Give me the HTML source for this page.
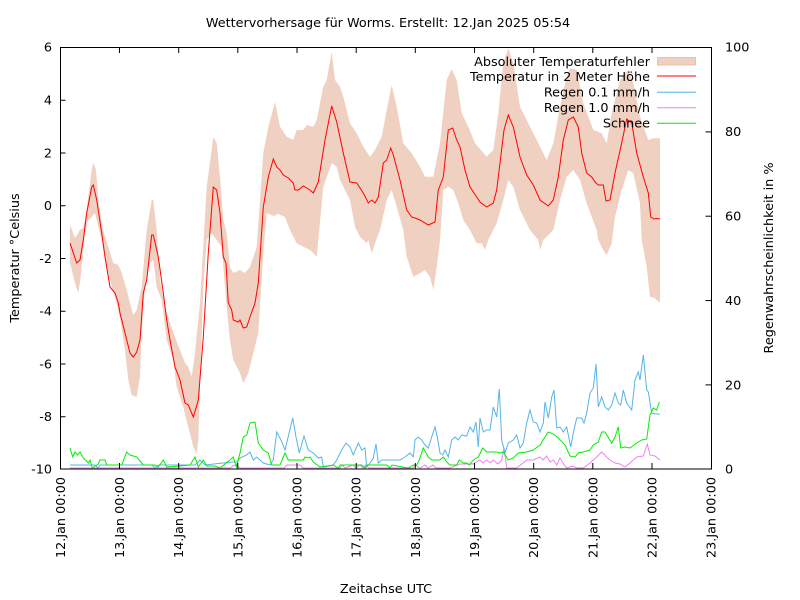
<!DOCTYPE html>
<html><head><meta charset="utf-8"><style>
html,body{margin:0;padding:0;background:#fff;}
svg{display:block;}
text{font-family:"DejaVu Sans","Liberation Sans",sans-serif;font-size:12.8px;fill:#000;}
</style></head><body>
<svg width="800" height="600" viewBox="0 0 800 600" xmlns="http://www.w3.org/2000/svg">
<rect width="800" height="600" fill="#fff"/>
<!-- band -->
<polygon fill="#f0d0c0" stroke="none" points="70,225 75,238 80,230 83.3,228 86.7,210 91.7,170 93.3,162.7 96,170 98.3,200 101.7,223 105,237 108.3,247 113.3,263 118.3,265 121.7,273 126.7,290 130,303 133.3,315 136.7,310 141.7,287 146.7,230 151.7,200 153.3,200 156.7,230 160,280 165,307 170,323 175,337 180,350 185,363 188.3,367 191.7,377 195,353 200,303 206.7,187 213.3,137 216.7,143 220,177 223.3,220 226.7,233 230,267 233.3,273 240,270 245,273 250,267 256.7,247 263.3,153 268.3,127 275,102 280,126.7 286.7,136.7 293.3,140 296.7,130 303.3,130 306.7,125 313.3,126.7 316.7,120 323.3,86.7 326.7,80 331.7,51.7 335,80 340,86.7 343.3,96.7 350,123.3 356.7,133.3 363.3,146.7 370,156.7 375,150 381.7,136.7 386.7,110 391.7,85 396.7,106.7 403.3,143.3 411.7,153.3 420,166.7 425,176.7 433.3,176.7 440,143.3 446.7,80 451.7,69.3 456.7,80 461.7,113.3 468.3,126.7 475,143.3 486.7,156.7 493.3,150 498.3,113.3 503.3,63.3 508.3,48.3 513.3,63.3 520,106.7 530,126.7 536.7,140 546.7,160 553.3,143.3 560,106.7 566.7,76.7 570,68.3 576.7,70 583.3,103.3 593.3,130 601.7,133.3 606.7,143.3 611.7,113.3 620,80 628.3,70 633.3,83.3 640,116.7 648.3,140 653.3,138.3 660,138.3
660,301.7 658.3,301.7 655,298.3 650,296.7 646.7,266.7 641.7,240 640,203.3 633.3,173.3 628.3,170 621.7,190 615,216.7 611.7,243.3 606.7,255 603.3,250 598.3,240 596.7,230 586.7,203.3 580,180 573.3,170 566.7,176.7 560,200 553.3,230 543.3,240 540,250 538.3,240 530,230 520,210 513.3,186.7 508.3,180 503.3,200 496.7,223.3 488.3,240 485,250 481.7,243.3 476.7,243.3 470,230 463.3,220 458.3,203.3 453.3,190 448.3,186.7 443.3,190 440,240 436.7,266.7 433.3,290 430,276.7 425,270 420,273.3 413.3,276.7 406.7,256.7 403.3,230 396.7,206.7 391.7,190 386.7,200 380,230 375,243.3 371.7,253.3 368.3,240 366.7,243.3 360,236.7 355,226.7 350,200 340,180 336.7,166.7 331.7,163.3 323.3,186.7 316.7,256.7 313.3,253.3 310,250 303.3,246.7 296.7,243.3 290,230 285,217 278.3,214 273.3,216 266.7,213 263.3,253 258.3,333 253.3,353 248.3,373 243.3,383 240,373 233.3,360 230,340 226.7,307 221.7,247 216.7,240 211.7,233 206.7,240 203.3,287 200,387 198.3,440 196.7,453 193.3,447 188.3,427 183.3,407 176.7,387 173.3,360 166.7,340 161.7,300 156.7,287 153.3,260 150,263 145,287 141.7,333 140,377 136.7,397 131.7,395 128.3,380 125,350 120,318 115,297 110,280 105,257 101.7,240 98.3,227 95,213 91.7,217 88.3,220 85,233 80.7,277 78.3,293 75,283 70,263"/>
<!-- violet -->
<polyline fill="none" stroke="#ee82ee" stroke-width="1" points="70,468 230,468 233,466 236,465 240,468 284,468 287,465 300,465 303,468 340,468 342,465 345,468 353,465 356,468 360,465 363,468 366,465 369,468 413,468 415,465 420,468 425,465 428,468 433,465 436,468 450,468 460,464 470,464 473,464 476,462 480,460 483,463 486.7,460 490,463 493.3,460 498,464 501.7,460 504,448 506.7,468 516.7,468 526.7,460 533.3,460 540,457 543,460 546.7,456 550,462 553.3,460 556.7,465 560,458 563,463 566.7,468 573,466 576.7,468 583.3,468 590,463 596.7,457 601.7,452 606.7,457 610,460 615,463 620,464 625,467 630,463 636.7,457 643.3,456 647.3,444 650,455 655,456 660,460"/>
<!-- blue -->
<polyline fill="none" stroke="#56b4e9" stroke-width="1" points="70,465 95,465 98,468 100,465 152,465 155,468 158,465 195,465 200,460 205,465 232,462 236.7,462 240,458 246.7,455 250,452 253.3,460 256.7,457 263.3,463 270,465 273.3,460 276.7,432 281,440 285,450 292.7,418 296,437 299.3,453 304,436 308.3,450 313.3,453 318.3,458 321.7,457 323.3,467 333.3,465 336.7,460 341.7,450 346,443 350,447 353.3,455 358.3,443 361.7,450 365,448 366.7,467 370.7,462 373.3,458 376,444 378.3,463 381.7,460 400,460 405,457 410,453 413.3,457 415,440 418.3,437 421.7,440 425,445 428.3,448 431.7,437 435,427 437.3,437 440,453 442.7,455 445,450 448.3,457 451.7,440 455,437 458.3,440 461.7,435 466.7,436 470,427 473.3,432 476,422 478.3,447 480,418 483.3,432 486.7,430 490,430 493.3,407 496.7,417 499.3,389 501.7,440 505,453 508.3,443 513.3,440 516.7,435 520,448 523.3,443 526.7,423 530,410 533.3,422 536.7,423 540,432 543.3,423 545,402 548.3,418 551.7,397 554,390 556.7,428 560,427 563.3,432 566.7,427 570.7,447 573.3,433 576.7,418 581.7,418 584,423 586.7,413 590,393 593.3,388 596,364 598.3,407 601.7,397 605,407 608.3,410 611.7,405 615,393 618.3,403 620.7,405 623.3,390 626.7,403 631.7,410 635,380 638.3,372 640,380 643.3,355 646.7,390 648.3,392 651.7,413 655,414 660,414"/>
<!-- green -->
<polyline fill="none" stroke="#00ee00" stroke-width="1" points="70,448 72.7,457 75,452 77.3,455 80,452 83.3,458 88.3,463 90,460 92.3,468 98.3,464 100,460 105,460 106.7,465 121.7,465 126.7,452 130,455 136.7,457 143.3,465 155,465 158.3,467 163.3,460 166.7,467 180,466 190,465 195,457 198.3,467 203.3,460 206.7,466 215,466 220,468 230,460 233.3,457 236.3,467 240,453 243.3,437 246.7,435 250,423 255,422 258.3,443 263.3,450 268.3,453 271.7,465 280,465 285,453 288.3,460 303.3,460 305,457 308.3,458 310,457 313.3,462 320,467 333.3,465 338.3,468 340,465 361.7,465 365,468 367,465 386.7,465 390,468 392,465 408.3,468 413.3,465 416.7,465 419.3,460 423.3,448 428.3,457 431.7,460 440,460 443.3,457 446.7,462 450,465 456.7,465 459.3,460 463.3,463 466.7,463 469.3,465 473.3,460 478.3,457 482.7,448 486.7,452 496.7,452 500,453 503.3,452 508.3,460 513.3,458 518.3,453 526.7,452 533.3,450 540,445 545,437 548.3,432 553.3,434 558.3,438 565,445 570,456 575,457 578.3,453 583.3,452 590,450 593.3,445 598.3,442 601.7,432 605,432 611.7,443 615,437 618.3,427 620.7,448 625,447 630,448 636.7,443 641.7,440 646.7,439 650,415 653.3,408 656.7,410 659.3,402"/>
<!-- red -->
<polyline fill="none" stroke="#ff0000" stroke-width="1" points="70,243 74,255 76.7,263 80,260 83.3,240 86.7,213 91.7,187 93.3,185 96.7,200 101.7,233 105,257 110,287 115,293 118.3,303 120,313 125,333 130,353 133.3,357 136.7,352 140,340 143.3,293 146.7,280 151.7,235 153.3,235 158.3,257 163.3,293 166.7,320 170,340 175,367 180,380 185,403 188.3,405 193.3,417 198.3,400 203.3,337 208.3,253 213.3,187 216.7,190 220,213 223.3,257 226,263 228.3,303 231.7,310 233.3,320 238.3,322 240,320 243.3,328 246.7,327 250,317 255,303 258.3,283 263.3,207 268.3,177 273.3,159 276.7,167 280,170 283.3,175 288.3,178 293.3,183 295,190 298.3,190 303.3,186 306.7,188 310,190 313.3,193 318.3,182 325,140 331.7,106 336.7,122 343.3,153 350,182 356.7,183 363.3,193 368.3,203 371.7,200 375,203 378.3,197 383.3,163 386.7,160 390.7,148 393.3,155 400,180 406.7,210 411.7,217 415,218 420,220 428.3,225 435,222 438.3,190 443.3,177 448.3,130 452.7,128 456.7,140 460,147 465,170 470,187 480,202 486.7,207 493.3,203 496.7,190 500,163 504,130 508.3,115 513.3,127 520,157 526.7,175 533.3,185 540,200 548.3,206 553.3,200 558.3,177 563.3,140 568.3,120 573.3,117 578.3,127 581.7,153 586.7,173 591.7,177 595,182 598.3,185 603.3,185 606,201 610,200 615,173 621.7,143 626.7,119 631.7,123 636.7,153 643.3,177 648.3,193 650.7,217 654,219 656.7,218.5 660,219"/>
<!-- frame -->
<rect x="60.5" y="47.5" width="651" height="421.5" fill="none" stroke="#000" stroke-width="1"/>
<g stroke="#000" stroke-width="1">
<line x1="60.5" y1="100.25" x2="65.5" y2="100.25"/>
<line x1="60.5" y1="153" x2="65.5" y2="153"/>
<line x1="60.5" y1="205.75" x2="65.5" y2="205.75"/>
<line x1="60.5" y1="258.5" x2="65.5" y2="258.5"/>
<line x1="60.5" y1="311.25" x2="65.5" y2="311.25"/>
<line x1="60.5" y1="364" x2="65.5" y2="364"/>
<line x1="60.5" y1="416.75" x2="65.5" y2="416.75"/>
<line x1="705.5" y1="131.9" x2="711.5" y2="131.9"/>
<line x1="705.5" y1="216.2" x2="711.5" y2="216.2"/>
<line x1="705.5" y1="300.6" x2="711.5" y2="300.6"/>
<line x1="705.5" y1="384.9" x2="711.5" y2="384.9"/>
<line x1="119.5" y1="469" x2="119.5" y2="463"/><line x1="119.5" y1="47.5" x2="119.5" y2="53"/>
<line x1="178.7" y1="469" x2="178.7" y2="463"/><line x1="178.7" y1="47.5" x2="178.7" y2="53"/>
<line x1="237.8" y1="469" x2="237.8" y2="463"/><line x1="237.8" y1="47.5" x2="237.8" y2="53"/>
<line x1="297" y1="469" x2="297" y2="463"/><line x1="297" y1="47.5" x2="297" y2="53"/>
<line x1="356.2" y1="469" x2="356.2" y2="463"/><line x1="356.2" y1="47.5" x2="356.2" y2="53"/>
<line x1="415.3" y1="469" x2="415.3" y2="463"/><line x1="415.3" y1="47.5" x2="415.3" y2="53"/>
<line x1="474.5" y1="469" x2="474.5" y2="463"/><line x1="474.5" y1="47.5" x2="474.5" y2="53"/>
<line x1="533.7" y1="469" x2="533.7" y2="463"/><line x1="533.7" y1="47.5" x2="533.7" y2="53"/>
<line x1="592.8" y1="469" x2="592.8" y2="463"/><line x1="592.8" y1="47.5" x2="592.8" y2="53"/>
<line x1="652" y1="469" x2="652" y2="463"/><line x1="652" y1="47.5" x2="652" y2="53"/>
</g>
<g text-anchor="end">
<text x="52" y="51.5">6</text>
<text x="52" y="104.5">4</text>
<text x="52" y="157.5">2</text>
<text x="52" y="210">0</text>
<text x="52" y="263">-2</text>
<text x="52" y="315.5">-4</text>
<text x="52" y="368.5">-6</text>
<text x="52" y="421">-8</text>
<text x="52" y="473.5">-10</text>
</g>
<g text-anchor="start">
<text x="725" y="51.5">100</text>
<text x="725" y="136">80</text>
<text x="725" y="220.5">60</text>
<text x="725" y="305">40</text>
<text x="725" y="389.5">20</text>
<text x="725" y="473.5">0</text>
</g>
<g text-anchor="end">
<text transform="translate(65,477) rotate(-90)">12.Jan 00:00</text>
<text transform="translate(124,477) rotate(-90)">13.Jan 00:00</text>
<text transform="translate(183.2,477) rotate(-90)">14.Jan 00:00</text>
<text transform="translate(242.3,477) rotate(-90)">15.Jan 00:00</text>
<text transform="translate(301.5,477) rotate(-90)">16.Jan 00:00</text>
<text transform="translate(360.7,477) rotate(-90)">17.Jan 00:00</text>
<text transform="translate(419.8,477) rotate(-90)">18.Jan 00:00</text>
<text transform="translate(479,477) rotate(-90)">19.Jan 00:00</text>
<text transform="translate(538.2,477) rotate(-90)">20.Jan 00:00</text>
<text transform="translate(597.3,477) rotate(-90)">21.Jan 00:00</text>
<text transform="translate(656.5,477) rotate(-90)">22.Jan 00:00</text>
<text transform="translate(715.7,477) rotate(-90)">23.Jan 00:00</text>
</g>
<text x="388" y="27" text-anchor="middle">Wettervorhersage für Worms. Erstellt: 12.Jan 2025 05:54</text>
<text x="386" y="593" text-anchor="middle">Zeitachse UTC</text>
<text transform="translate(19,258) rotate(-90)" text-anchor="middle">Temperatur °Celsius</text>
<text transform="translate(773,258) rotate(-90)" text-anchor="middle">Regenwahrscheinlichkeit in %</text>
<g text-anchor="end">
<text x="650" y="66">Absoluter Temperaturfehler</text>
<text x="650" y="81">Temperatur in 2 Meter Höhe</text>
<text x="650" y="96.5">Regen 0.1 mm/h</text>
<text x="650" y="112">Regen 1.0 mm/h</text>
<text x="650" y="127.5">Schnee</text>
</g>
<rect x="657.5" y="57.5" width="38" height="7.5" fill="#f0d0c0" stroke="#e6c2b0" stroke-width="1"/>
<line x1="657" y1="76" x2="696" y2="76" stroke="#ff0000" stroke-width="1"/>
<line x1="657" y1="92.3" x2="696" y2="92.3" stroke="#56b4e9" stroke-width="1"/>
<line x1="657" y1="107.7" x2="696" y2="107.7" stroke="#ee82ee" stroke-width="1"/>
<line x1="657" y1="123.3" x2="696" y2="123.3" stroke="#00ee00" stroke-width="1"/>
</svg>
</body></html>
